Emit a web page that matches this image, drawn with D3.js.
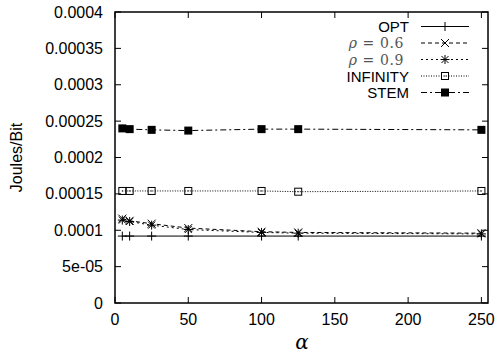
<!DOCTYPE html>
<html><head><meta charset="utf-8">
<script src="https://cdn.jsdelivr.net/npm/d3@7"></script>
<style>body{margin:0;background:#fff}svg{display:block}</style>
</head><body>
<svg id="c" width="495" height="358"></svg>
<script>
const alphas = [5, 10, 25, 50, 100, 125, 250];
const opt = [0.000092, 0.000092, 0.000092, 0.000092, 0.000092, 0.000092, 0.000092];
const rho06 = [0.000116, 0.000113, 0.000109, 0.000103, 0.000098, 0.000097, 0.000096];
const rho09 = [0.000114, 0.000112, 0.000107, 0.000101, 0.000097, 0.000096, 0.000095];
const infinity = [0.000154, 0.000154, 0.000154, 0.000154, 0.000154, 0.000153, 0.000154];
const stem = [0.000240, 0.000239, 0.000238, 0.000237, 0.000239, 0.000239, 0.000238];
const xTicks = [0, 50, 100, 150, 200, 250];
const yTicks = [0, 0.00005, 0.0001, 0.00015, 0.0002, 0.00025, 0.0003, 0.00035, 0.0004];
const yTickLabels = ["0", "5e-05", "0.0001", "0.00015", "0.0002", "0.00025", "0.0003", "0.00035", "0.0004"];

const L = 115, R = 488, T = 12, B = 303;
const x = d3.scaleLinear().domain([0, 254.5]).range([L, R]);
const y = d3.scaleLinear().domain([0, 0.0004]).range([B, T]);
const svg = d3.select("#c");
const sans = "Liberation Sans, Arial, sans-serif";
const serif = "DejaVu Serif, Liberation Serif, serif";

// ticks (inward, mirrored)
const tk = 6;
const g = svg.append("g").attr("stroke", "#000").attr("stroke-width", 1);
xTicks.forEach(v => {
  g.append("line").attr("x1", x(v)).attr("x2", x(v)).attr("y1", B).attr("y2", B - tk);
  g.append("line").attr("x1", x(v)).attr("x2", x(v)).attr("y1", T).attr("y2", T + tk);
});
yTicks.forEach(v => {
  g.append("line").attr("x1", L).attr("x2", L + tk).attr("y1", y(v)).attr("y2", y(v));
  g.append("line").attr("x1", R).attr("x2", R - tk).attr("y1", y(v)).attr("y2", y(v));
});
svg.append("rect").attr("x", L).attr("y", T).attr("width", R - L).attr("height", B - T)
  .attr("fill", "none").attr("stroke", "#000").attr("stroke-width", 1.5);

// tick labels
svg.append("g").selectAll("text").data(xTicks).join("text")
  .attr("x", d => x(d)).attr("y", B + 22).attr("text-anchor", "middle")
  .attr("font-family", sans).attr("font-size", 16).text(d => d);
svg.append("g").selectAll("text").data(yTicks).join("text")
  .attr("x", L - 12).attr("y", d => y(d) + 5.5).attr("text-anchor", "end")
  .attr("font-family", sans).attr("font-size", 16).text((d, i) => yTickLabels[i]);

svg.append("text").attr("transform", `translate(22,${(T + B) / 2}) rotate(-90)`)
  .attr("text-anchor", "middle").attr("font-family", sans).attr("font-size", 16).text("Joules/Bit");
svg.append("text").attr("x", 302).attr("y", 349).attr("text-anchor", "middle")
  .attr("font-family", serif).attr("font-style", "italic").attr("font-size", 20).text("α");

// marker drawers
function mk(sel, type, cx, cy) {
  const s = 4.5;
  const p = sel.append("g").attr("transform", `translate(${cx},${cy})`).attr("stroke", "#000").attr("stroke-width", 1).attr("fill", "none");
  if (type === "plus" || type === "star") {
    p.append("line").attr("x1", -s).attr("x2", s).attr("y1", 0).attr("y2", 0);
    p.append("line").attr("x1", 0).attr("x2", 0).attr("y1", -s).attr("y2", s);
  }
  if (type === "cross" || type === "star") {
    const c = type === "star" ? 3.5 : 4;
    p.append("line").attr("x1", -c).attr("x2", c).attr("y1", -c).attr("y2", c);
    p.append("line").attr("x1", -c).attr("x2", c).attr("y1", c).attr("y2", -c);
  }
  if (type === "osq") {
    p.append("rect").attr("x", -3.5).attr("y", -3.5).attr("width", 7).attr("height", 7);
    p.append("rect").attr("x", -0.5).attr("y", -0.5).attr("width", 1).attr("height", 1).attr("fill", "#000").attr("stroke", "none");
  }
  if (type === "fsq") {
    p.append("rect").attr("x", -4).attr("y", -4).attr("width", 8).attr("height", 8).attr("fill", "#000").attr("stroke", "none");
  }
}

const series = [
  {name: "OPT", vals: opt, dash: null, m: "plus"},
  {name: "rho06", vals: rho06, dash: "4,3", m: "cross"},
  {name: "rho09", vals: rho09, dash: "2,3", m: "star"},
  {name: "INFINITY", vals: infinity, dash: "1,1.5", m: "osq"},
  {name: "STEM", vals: stem, dash: "6,3,2,3", m: "fsq"}
];
const line = d3.line().x((d, i) => x(alphas[i])).y(d => y(d));
series.forEach(s => {
  svg.append("path").attr("d", line(s.vals)).attr("fill", "none").attr("stroke", "#000")
    .attr("stroke-width", 1).attr("stroke-dasharray", s.dash);
  s.vals.forEach((v, i) => mk(svg, s.m, x(alphas[i]), y(v)));
});

// legend
const legY = [26.5, 43, 59.5, 76, 92.5];
const lx1 = 421, lx2 = 469, tx = 409;
series.forEach((s, i) => {
  const yy = legY[i];
  svg.append("line").attr("x1", lx1).attr("x2", lx2).attr("y1", yy).attr("y2", yy)
    .attr("stroke", "#000").attr("stroke-width", 1).attr("stroke-dasharray", s.dash);
  mk(svg, s.m, 445, yy);
  if (i === 1 || i === 2) {
    const t = svg.append("text").attr("x", 404).attr("y", yy + 5).attr("text-anchor", "end")
      .attr("font-family", serif).attr("font-size", 14).attr("letter-spacing", 0.6).attr("fill", "#555");
    t.append("tspan").attr("font-style", "italic").text("ρ");
    t.append("tspan").text(i === 1 ? " = 0.6" : " = 0.9");
  } else {
    svg.append("text").attr("x", tx).attr("y", yy + 5.5).attr("text-anchor", "end")
      .attr("font-family", sans).attr("font-size", 15).text(s.name);
  }
});
</script>
</body></html>
